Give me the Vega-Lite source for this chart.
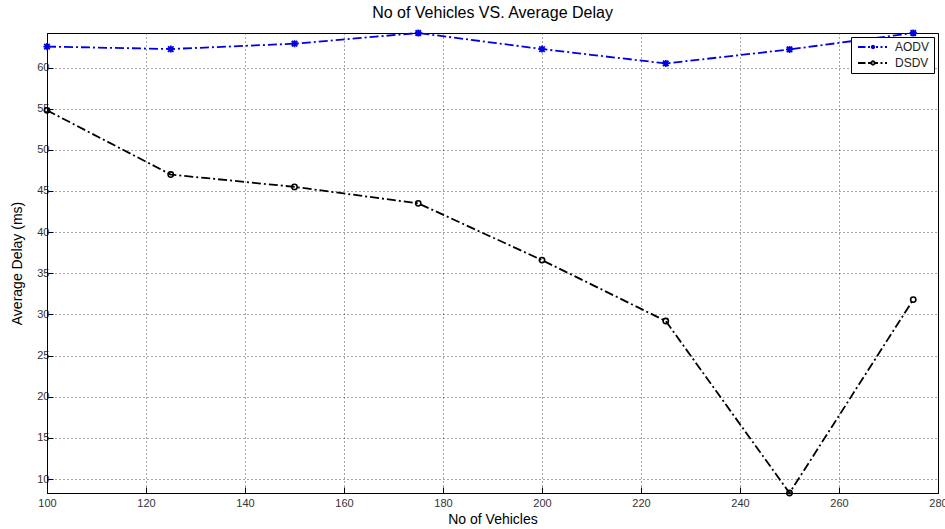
{
  "$schema": "https://vega.github.io/schema/vega-lite/v6.json",
  "width": 891,
  "height": 460,
  "autosize": {"type": "none"},
  "padding": {"left": 47, "top": 33, "right": 7, "bottom": 36},
  "background": "white",
  "title": {"text": "No of Vehicles VS. Average Delay", "fontSize": 16, "font": "Liberation Sans", "fontWeight": "normal", "color": "black", "offset": 5, "anchor": "middle"},
  "config": {
    "view": {"stroke": "black", "strokeWidth": 1},
    "axis": {
      "labelFont": "Liberation Sans", "labelFontSize": 11, "labelColor": "#333",
      "titleFont": "Liberation Sans", "titleFontSize": 14, "titleFontWeight": "normal", "titleColor": "black",
      "domainColor": "black", "tickColor": "black", "tickSize": -6,
      "grid": true, "gridColor": "#000", "gridDash": [1, 3], "gridOpacity": 0.7,
      "labelOverlap": false, "labelFlush": false
    }
  },
  "data": {"values": [
    {"vehicles": 100, "protocol": "AODV", "delay": 62.55},
    {"vehicles": 125, "protocol": "AODV", "delay": 62.25},
    {"vehicles": 150, "protocol": "AODV", "delay": 62.9},
    {"vehicles": 175, "protocol": "AODV", "delay": 64.2},
    {"vehicles": 200, "protocol": "AODV", "delay": 62.25},
    {"vehicles": 225, "protocol": "AODV", "delay": 60.5},
    {"vehicles": 250, "protocol": "AODV", "delay": 62.2},
    {"vehicles": 275, "protocol": "AODV", "delay": 64.2},
    {"vehicles": 100, "protocol": "DSDV", "delay": 54.8},
    {"vehicles": 125, "protocol": "DSDV", "delay": 47.0},
    {"vehicles": 150, "protocol": "DSDV", "delay": 45.5},
    {"vehicles": 175, "protocol": "DSDV", "delay": 43.5},
    {"vehicles": 200, "protocol": "DSDV", "delay": 36.6},
    {"vehicles": 225, "protocol": "DSDV", "delay": 29.2},
    {"vehicles": 250, "protocol": "DSDV", "delay": 8.3},
    {"vehicles": 275, "protocol": "DSDV", "delay": 31.8}
  ]},
  "encoding": {
    "x": {"field": "vehicles", "type": "quantitative",
      "scale": {"domain": [100, 280], "nice": false, "zero": false},
      "axis": {"values": [100, 120, 140, 160, 180, 200, 220, 240, 260, 280], "format": "d", "title": "No of Vehicles", "labelPadding": 10, "titlePadding": 4}},
    "y": {"field": "delay", "type": "quantitative",
      "scale": {"domain": [8.3, 64.2], "nice": false, "zero": false},
      "axis": {"values": [10, 15, 20, 25, 30, 35, 40, 45, 50, 55, 60], "format": "d", "title": "Average Delay (ms)", "labelPadding": 4, "titlePadding": 12}},
    "color": {"field": "protocol", "type": "nominal",
      "scale": {"domain": ["AODV", "DSDV"], "range": ["#0000e6", "#000000"]},
      "legend": {"title": null, "orient": "top-right", "offset": 4, "fillColor": "white", "strokeColor": "black",
        "padding": 4, "labelFont": "Liberation Sans", "labelFontSize": 12, "labelColor": "#222",
        "symbolType": "circle", "symbolSize": 100, "symbolOffset": 12, "labelOffset": 16, "rowPadding": 4,
        "encode": {"symbols": {"update": {
          "shape": {"signal": "datum.value == 'AODV' ? 'M-3,0H-1.5M-1,0H-0.6M0.6,0H1M1.5,0H1.9M2.4,0H2.8M-0.3,-0.3L0.3,0.3M-0.3,0.3L0.3,-0.3M0,-0.4V0.4M-0.4,0H0.4' : 'M-3,0H-1.5M-1,0H-0.35M0.35,0H1M1.5,0H1.9M2.4,0H2.8M-0.35,0A0.35,0.35 0 1,0 0.35,0A0.35,0.35 0 1,0 -0.35,0'"},
          "fill": {"value": "transparent"},
          "strokeWidth": {"value": 1.8},
          "opacity": {"value": 1}
        }}}}}
  },
  "layer": [
    {"mark": {"type": "line", "strokeDash": [9, 3, 2, 3], "strokeWidth": 1.8}},
    {"transform": [{"filter": "datum.protocol == 'AODV'"}],
      "mark": {"type": "point", "filled": false, "size": 30, "strokeWidth": 1.8, "opacity": 1, "shape": "M-1,-1L1,1M-1,1L1,-1M0,-1.3V1.3M-1.3,0H1.3"}},
    {"transform": [{"filter": "datum.protocol == 'DSDV'"}],
      "mark": {"type": "point", "filled": false, "size": 28, "strokeWidth": 1.6, "opacity": 1, "shape": "circle"}}
  ]
}
